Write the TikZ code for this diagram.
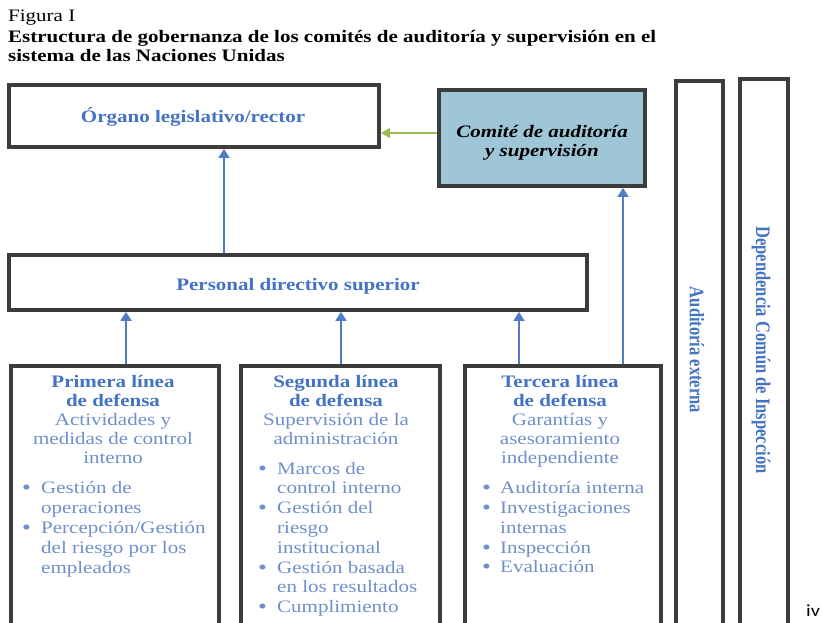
\documentclass[tikz,border=0pt]{standalone}
\usepackage{fontspec}
\setmainfont{Liberation Serif}[FakeStretch=1.2]
\newfontfamily\vserif{Liberation Serif}
\newfontfamily\carl{Carlito}[FakeStretch=1.2]
\usetikzlibrary{arrows.meta}
\definecolor{hblue}{HTML}{4472C4}
\definecolor{bblue}{HTML}{6F8FCB}
\definecolor{framec}{HTML}{3C3C3C}
\definecolor{fillblue}{HTML}{9FC6D6}
\definecolor{agreen}{HTML}{9BBB59}
\definecolor{ablue}{HTML}{4F7CC4}
\tikzset{
 box/.style={draw=framec, line width=3.8pt, inner sep=0pt},
 hd/.style={font=\fontsize{17.5}{20}\selectfont\bfseries, text=hblue, inner sep=0pt, anchor=base},
 bd/.style={font=\fontsize{17.5}{20}\selectfont, text=bblue, inner sep=0pt, anchor=base},
 bdl/.style={bd, anchor=base west},
 bul/.style={font=\fontsize{21}{21}\selectfont, text=bblue, inner sep=0pt, anchor=base west},
 ttl/.style={font=\fontsize{17.5}{20}\selectfont, inner sep=0pt, anchor=base west},
 arr/.style={draw=ablue, line width=1.8pt, -{Triangle[length=9pt,width=11pt]}},
 garr/.style={draw=agreen, line width=1.5pt, -{Triangle[length=9pt,width=10pt]}},
 vtxt/.style={font={\vserif\bfseries\fontsize{16.5}{20}\selectfont}, text=hblue, inner sep=0pt},
}
\begin{document}
\begin{tikzpicture}[x=1pt,y=-1pt]
\useasboundingbox (0,0) rectangle (822,622);
\clip (0,0) rectangle (822,622);
% titles
\node[ttl] (fig) at (8,21) {Figura I};
\node[ttl, font=\fontsize{17.5}{20}\selectfont\bfseries] (t1) at (8,42) {Estructura de gobernanza de los comités de auditoría y supervisión en el};
\node[ttl, font=\fontsize{17.5}{20}\selectfont\bfseries] (t2) at (8,61) {sistema de las Naciones Unidas};
% top boxes
\node[box, minimum width=370pt, minimum height=62pt] (org) at (194,116) {};
\node[hd] (orgt) at (193,122) {Órgano legislativo/rector};
\node[box, fill=fillblue, minimum width=206pt, minimum height=96pt] (com) at (542,138) {};
\node[inner sep=0pt, align=center, font=\fontsize{17.5}{19}\selectfont\bfseries\itshape] (comt) at (542,143) {Comité de auditoría\\y supervisión};
\node[box, minimum width=578pt, minimum height=55pt] (per) at (298,282.5) {};
\node[hd] (pert) at (298,290) {Personal directivo superior};
% bottom boxes
\node[box, anchor=north west, minimum width=208pt, minimum height=290pt] (p1) at (9,364) {};
\node[box, anchor=north west, minimum width=199pt, minimum height=290pt] (p2) at (239,364) {};
\node[box, anchor=north west, minimum width=196pt, minimum height=290pt] (p3) at (463,364) {};
% columns
\node[box, anchor=north west, minimum width=47pt, minimum height=570pt] (ae) at (674,79) {};
\node[box, anchor=north west, minimum width=48pt, minimum height=570pt] (dci) at (738,77) {};
\node[vtxt] (aet) at (697,350) {\scalebox{1.25}[1]{\rotatebox{-90}{Auditoría externa}}};
\node[vtxt] (dcit) at (761,350) {\scalebox{1.25}[1]{\rotatebox{-90}{Dependencia Común de Inspección}}};
% connectors
\coordinate (xa) at (224,0);
\coordinate (xb) at (126,0);
\coordinate (xc) at (341,0);
\coordinate (xd) at (519,0);
\coordinate (xe) at (623,0);
\coordinate (yg) at (0,133);
\draw[arr] (per.north -| xa) -- (org.south -| xa);
\draw[garr] (com.west |- yg) -- (org.east |- yg);
\draw[arr] (p1.north -| xb) -- (per.south -| xb);
\draw[arr] (p2.north -| xc) -- (per.south -| xc);
\draw[arr] (p3.north -| xd) -- (per.south -| xd);
\draw[arr] (p3.north -| xe) -- (com.south -| xe);
% Primera
\node[hd] (p1a) at (113,387) {Primera línea};
\node[hd] (p1b) at (113,406) {de defensa};
\node[bd] (p1c) at (113,425) {Actividades y};
\node[bd] (p1d) at (113,444) {medidas de control};
\node[bd] (p1e) at (113,463) {interno};
\node[bul] (p1u1) at (22,494) {•};
\node[bdl] (p1f) at (41,493) {Gestión de};
\node[bdl] (p1g) at (41,513) {operaciones};
\node[bul] (p1u2) at (22,534) {•};
\node[bdl] (p1h) at (41,533) {Percepción/Gestión};
\node[bdl] (p1i) at (41,553) {del riesgo por los};
\node[bdl] (p1j) at (41,573) {empleados};
% Segunda
\node[hd] (p2a) at (336,387) {Segunda línea};
\node[hd] (p2b) at (336,406) {de defensa};
\node[bd] (p2c) at (336,425) {Supervisión de la};
\node[bd] (p2d) at (336,444) {administración};
\node[bul] (p2u1) at (258,475) {•};
\node[bdl] (p2e) at (277,474) {Marcos de};
\node[bdl] (p2f) at (277,493) {control interno};
\node[bul] (p2u2) at (258,514) {•};
\node[bdl] (p2g) at (277,513) {Gestión del};
\node[bdl] (p2h) at (277,533) {riesgo};
\node[bdl] (p2i) at (277,553) {institucional};
\node[bul] (p2u3) at (258,574) {•};
\node[bdl] (p2j) at (277,573) {Gestión basada};
\node[bdl] (p2k) at (277,592) {en los resultados};
\node[bul] (p2u4) at (258,613) {•};
\node[bdl] (p2l) at (277,612) {Cumplimiento};
% Tercera
\node[hd] (p3a) at (560,387) {Tercera línea};
\node[hd] (p3b) at (560,406) {de defensa};
\node[bd] (p3c) at (560,425) {Garantías y};
\node[bd] (p3d) at (560,444) {asesoramiento};
\node[bd] (p3e) at (560,463) {independiente};
\node[bul] (p3u1) at (482,494) {•};
\node[bdl] (p3f) at (500,493) {Auditoría interna};
\node[bul] (p3u2) at (482,514) {•};
\node[bdl] (p3g) at (500,513) {Investigaciones};
\node[bdl] (p3h) at (500,533) {internas};
\node[bul] (p3u3) at (482,554) {•};
\node[bdl] (p3i) at (500,553) {Inspección};
\node[bul] (p3u4) at (482,573) {•};
\node[bdl] (p3j) at (500,572) {Evaluación};
% page number
\node[font=\carl\fontsize{17}{20}\selectfont, inner sep=0pt, anchor=base west] (pg) at (806,616) {iv};
\end{tikzpicture}
\end{document}
